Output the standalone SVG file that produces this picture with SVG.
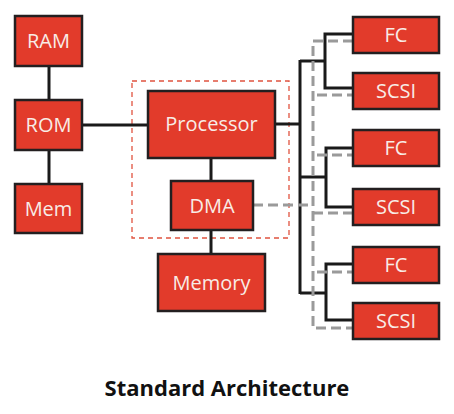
<svg xmlns="http://www.w3.org/2000/svg" width="454" height="414" viewBox="0 0 454 414">
<style>
.box{fill:#e23b2b;stroke:#231f20;stroke-width:2.5}
.lbl{font-family:"Open Sans","Liberation Sans",sans-serif;font-size:20px;fill:#f8ece6;text-anchor:middle}
.bl{fill:none;stroke:#1a1a1a;stroke-width:3}
.gr{fill:none;stroke:#9a9a9a;stroke-width:3;stroke-dasharray:10 5}
.title{font-family:"Open Sans","Liberation Sans",sans-serif;font-size:22px;font-weight:bold;fill:#111;text-anchor:middle}
</style>
<rect width="454" height="414" fill="#ffffff"/>
<rect x="132" y="81" width="157" height="157" fill="none" stroke="#e0533f" stroke-width="1.3" stroke-dasharray="5 4"/>
<g id="connectors">
<path class="bl" d="M49,66V100M49,150V184M82,125H148M275,124H300M211,158V181M211,230V254M300,60V294"/>
<path class="bl" d="M300,61H325M353,34H325V88H353"/>
<path class="bl" d="M300,177H326M353,148H326V207H353"/>
<path class="bl" d="M300,293H326M353,264H326V320H353"/>
<path class="gr" d="M353,41H313V328H353"/>
<path class="gr" d="M317,95H353M317,155H353M253,205H313M313,213H353M317,272H353"/>
</g>
<g id="ram"><rect class="box" x="15" y="16" width="67" height="50"/><text class="lbl" x="48.5" y="48">RAM</text></g>
<g id="rom"><rect class="box" x="15" y="100" width="67" height="50"/><text class="lbl" x="48.5" y="132">ROM</text></g>
<g id="mem"><rect class="box" x="15" y="184" width="67" height="49"/><text class="lbl" x="48.5" y="215.5">Mem</text></g>
<g id="processor"><rect class="box" x="148" y="91" width="127" height="67"/><text class="lbl" x="211.5" y="131">Processor</text></g>
<g id="dma"><rect class="box" x="171" y="181" width="82" height="49"/><text class="lbl" x="212" y="212.5">DMA</text></g>
<g id="memory"><rect class="box" x="158" y="254" width="107" height="57"/><text class="lbl" x="211.5" y="289.5">Memory</text></g>
<g id="fc1"><rect class="box" x="353" y="17" width="86" height="36"/><text class="lbl" x="396" y="42">FC</text></g>
<g id="scsi1"><rect class="box" x="353" y="73" width="86" height="36"/><text class="lbl" x="396" y="98">SCSI</text></g>
<g id="fc2"><rect class="box" x="353" y="130" width="86" height="36"/><text class="lbl" x="396" y="155">FC</text></g>
<g id="scsi2"><rect class="box" x="353" y="189" width="86" height="36"/><text class="lbl" x="396" y="214">SCSI</text></g>
<g id="fc3"><rect class="box" x="353" y="247" width="86" height="36"/><text class="lbl" x="396" y="272">FC</text></g>
<g id="scsi3"><rect class="box" x="353" y="303" width="86" height="36"/><text class="lbl" x="396" y="328">SCSI</text></g>
<text class="title" x="227" y="396">Standard Architecture</text>
</svg>
